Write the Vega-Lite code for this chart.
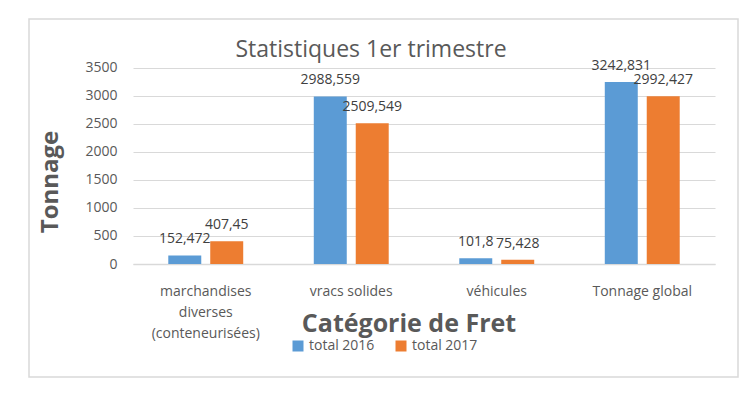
{
  "$schema": "https://vega.github.io/schema/vega-lite/v6.json",
  "width": 709,
  "height": 358,
  "autosize": {"type": "none"},
  "padding": {"left": 29, "top": 19, "right": 11, "bottom": 19},
  "background": "white",
  "config": {
    "locale": {"number": {"decimal": ",", "thousands": " ", "grouping": [3], "currency": ["", ""]}},
    "view": {"stroke": "#d9d9d9", "strokeWidth": 1.5},
    "font": "Open Sans"
  },
  "title": {
    "text": "Statistiques 1er trimestre",
    "fontSize": 23,
    "fontWeight": "normal",
    "color": "#595959",
    "anchor": "middle",
    "frame": "group",
    "baseline": "middle",
    "offset": -33,
    "dx": -12.5,
    "dy": 21
  },
  "data": {
    "values": [
      {"categorie": "marchandises diverses (conteneurisées)", "serie": "total 2016", "tonnage": 152.472},
      {"categorie": "marchandises diverses (conteneurisées)", "serie": "total 2017", "tonnage": 407.45},
      {"categorie": "vracs solides", "serie": "total 2016", "tonnage": 2988.559},
      {"categorie": "vracs solides", "serie": "total 2017", "tonnage": 2509.549},
      {"categorie": "véhicules", "serie": "total 2016", "tonnage": 101.8},
      {"categorie": "véhicules", "serie": "total 2017", "tonnage": 75.428},
      {"categorie": "Tonnage global", "serie": "total 2016", "tonnage": 3242.831},
      {"categorie": "Tonnage global", "serie": "total 2017", "tonnage": 2992.427}
    ]
  },
  "encoding": {
    "x": {
      "field": "categorie",
      "type": "nominal",
      "sort": null,
      "scale": {"range": [104, 686], "paddingInner": 0.485, "paddingOuter": 0.2425},
      "axis": {
        "offset": -113,
        "ticks": false,
        "domainColor": "#d9d9d9",
        "domainWidth": 1.5,
        "labelAngle": 0,
        "labelPadding": 20,
        "labelFontSize": 14,
        "labelColor": "#595959",
        "labelLineHeight": 21,
        "labelBaseline": "top",
        "labelOverlap": false,
        "labelExpr": "datum.label == 'marchandises diverses (conteneurisées)' ? ['marchandises', 'diverses', '(conteneurisées)'] : datum.label",
        "title": "Catégorie de Fret",
        "titleFontSize": 25,
        "titleFontWeight": "bold",
        "titleColor": "#595959",
        "titleX": 379.5,
        "titleY": 59,
        "titleBaseline": "middle",
        "titleAlign": "center"
      }
    },
    "xOffset": {"field": "serie", "type": "nominal", "scale": {"paddingInner": 0.214, "paddingOuter": 0}},
    "y": {
      "field": "tonnage",
      "type": "quantitative",
      "scale": {"domain": [0, 3500], "range": [245, 48.7], "nice": false},
      "axis": {
        "values": [0, 500, 1000, 1500, 2000, 2500, 3000, 3500],
        "format": "d",
        "offset": -104,
        "domain": false,
        "ticks": false,
        "labelPadding": 16,
        "labelFontSize": 14,
        "labelColor": "#595959",
        "gridColor": "#d9d9d9",
        "gridWidth": 1,
        "title": "Tonnage",
        "titleFontSize": 24,
        "titleFontWeight": "bold",
        "titleColor": "#595959",
        "titleX": -83,
        "titleY": 162.5,
        "titleAngle": 270,
        "titleAlign": "center",
        "titleBaseline": "middle"
      }
    }
  },
  "layer": [
    {
      "mark": {"type": "bar"},
      "encoding": {
        "color": {
          "field": "serie",
          "type": "nominal",
          "scale": {"range": ["#5B9BD5", "#ED7D31"]},
          "legend": {
            "title": null,
            "orient": "none",
            "legendX": 262,
            "legendY": 320,
            "direction": "horizontal",
            "symbolType": "square",
            "symbolSize": 121,
            "symbolStrokeWidth": 0,
            "labelFontSize": 14,
            "labelColor": "#595959",
            "labelOffset": 4,
            "columnPadding": 19,
            "padding": 0
          }
        }
      }
    },
    {
      "mark": {"type": "text", "baseline": "bottom", "dy": -9, "fontSize": 14, "color": "#404040"},
      "encoding": {
        "text": {"field": "tonnage", "type": "quantitative", "format": "~f"}
      }
    }
  ]
}
